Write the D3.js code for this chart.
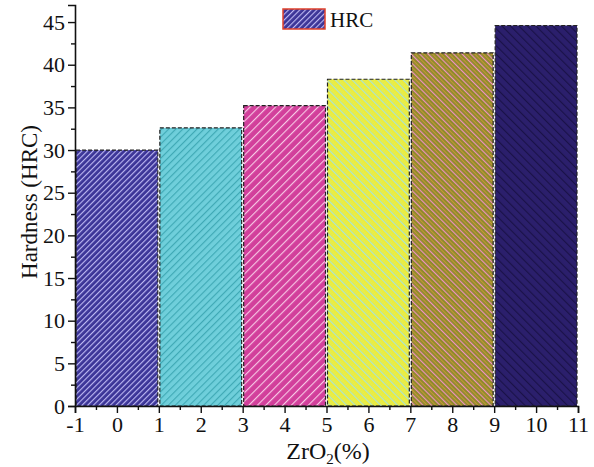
<!DOCTYPE html>
<html>
<head>
<meta charset="utf-8">
<script src="https://cdn.jsdelivr.net/npm/d3@7"></script>
<style>
  body { margin: 0; background: #fff; }
  text { font-family: "Liberation Serif", "Times New Roman", serif; fill: #111; }
</style>
</head>
<body>
<div id="chart"></div>
<script>
// data
const zro2 = [0, 2, 4, 6, 8, 10];
const hardness = [30.0, 32.6, 35.2, 38.3, 41.4, 44.6];
const barColors = ["#3b3497", "#6fcfdb", "#d23f9b", "#ecec3c", "#8e8a2c", "#2b1f6c"];
const hatchColors = ["#bcb7f2", "#3fa9b5", "#f7c7e4", "#a8e4d8", "#f090c0", "#1a1248"];
const hatchDir = ["/", "/", "/", "\\", "\\", "\\"];
const xTicks = [-1, 0, 1, 2, 3, 4, 5, 6, 7, 8, 9, 10, 11];
const yTicks = [0, 5, 10, 15, 20, 25, 30, 35, 40, 45];
const seriesName = "HRC";

const width = 594, height = 467;
const margin = { top: 5, right: 16, bottom: 61, left: 75 };

const svg = d3.select("#chart").append("svg")
    .attr("width", width).attr("height", height);

const x = d3.scaleLinear().domain([-1, 11]).range([margin.left, width - margin.right]);
const y = d3.scaleLinear().domain([0, 47]).range([height - margin.bottom, margin.top]);

// hatch patterns
const gaps = [4, 5, 6, 6, 6, 6];
const defs = svg.append("defs");
barColors.forEach((c, i) => {
    const s = gaps[i];
    const p = defs.append("pattern")
        .attr("id", "hatch" + i)
        .attr("patternUnits", "userSpaceOnUse")
        .attr("width", s).attr("height", s)
        .attr("patternTransform", `rotate(${hatchDir[i] === "/" ? 45 : -45})`);
    p.append("rect").attr("width", s).attr("height", s).attr("fill", c);
    p.append("line").attr("x1", 0.5).attr("y1", 0).attr("x2", 0.5).attr("y2", s)
        .attr("stroke", hatchColors[i]).attr("stroke-width", 1.3);
    if (i === 4) {
        p.append("line").attr("x1", 3.5).attr("y1", 0).attr("x2", 3.5).attr("y2", s)
            .attr("stroke", "#d89a3a").attr("stroke-width", 0.8);
    }
    if (i === 3) {
        p.append("line").attr("x1", 3).attr("y1", 0).attr("x2", 3).attr("y2", s)
            .attr("stroke", "#d8f070").attr("stroke-width", 1).attr("stroke-dasharray", "1,1");
    }
});

// bars
svg.append("g").selectAll("rect")
    .data(zro2)
    .enter().append("rect")
    .attr("x", d => x(d - 1) + 1)
    .attr("y", (d, i) => y(hardness[i]))
    .attr("width", d => x(d + 1) - x(d - 1) - 2)
    .attr("height", (d, i) => y(0) - y(hardness[i]))
    .attr("fill", (d, i) => `url(#hatch${i})`)
    .attr("stroke", "#222")
    .attr("stroke-width", 1.2)
    .attr("stroke-dasharray", "4,2");

// x axis
svg.append("g")
    .attr("transform", `translate(0,${y(0)})`)
    .call(d3.axisBottom(x).tickValues(xTicks).tickFormat(d => String(d)).tickSize(7).tickPadding(3));
svg.append("g")
    .attr("transform", `translate(0,${y(0)})`)
    .call(d3.axisBottom(x).tickValues(d3.range(-0.5, 11, 1)).tickFormat("").tickSize(4))
    .select(".domain").remove();

// y axis
svg.append("g")
    .attr("transform", `translate(${margin.left},0)`)
    .call(d3.axisLeft(y).tickValues(yTicks).tickSize(7).tickPadding(3));
svg.append("g")
    .attr("transform", `translate(${margin.left},0)`)
    .call(d3.axisLeft(y).tickValues(d3.range(2.5, 47, 5)).tickFormat("").tickSize(4))
    .select(".domain").remove();

svg.selectAll(".domain").attr("stroke", "#111").attr("stroke-width", 1.6);
svg.selectAll(".tick line").attr("stroke", "#111").attr("stroke-width", 1.4);
svg.selectAll(".tick text")
    .style("font-family", "Liberation Serif, Times New Roman, serif")
    .style("font-size", "22px").attr("fill", "#111");

// axis titles
svg.append("text")
    .attr("transform", `translate(37,202) rotate(-90)`)
    .attr("text-anchor", "middle")
    .style("font-size", "23px")
    .text("Hardness (HRC)");

const xt = svg.append("text")
    .attr("x", 328)
    .attr("y", 459)
    .attr("text-anchor", "middle")
    .style("font-size", "24px");
xt.append("tspan").text("ZrO");
xt.append("tspan").attr("dy", 5).style("font-size", "15px").text("2");
xt.append("tspan").attr("dy", -5).text("(%)");

// legend
const lg = svg.append("g").attr("transform", "translate(283,9)");
lg.append("rect").attr("width", 42).attr("height", 20)
    .attr("fill", "url(#hatch0)").attr("stroke", "#e0402a").attr("stroke-width", 1.5);
lg.append("text").attr("x", 47).attr("y", 18)
    .style("font-size", "21px").text(seriesName);
</script>
</body>
</html>
